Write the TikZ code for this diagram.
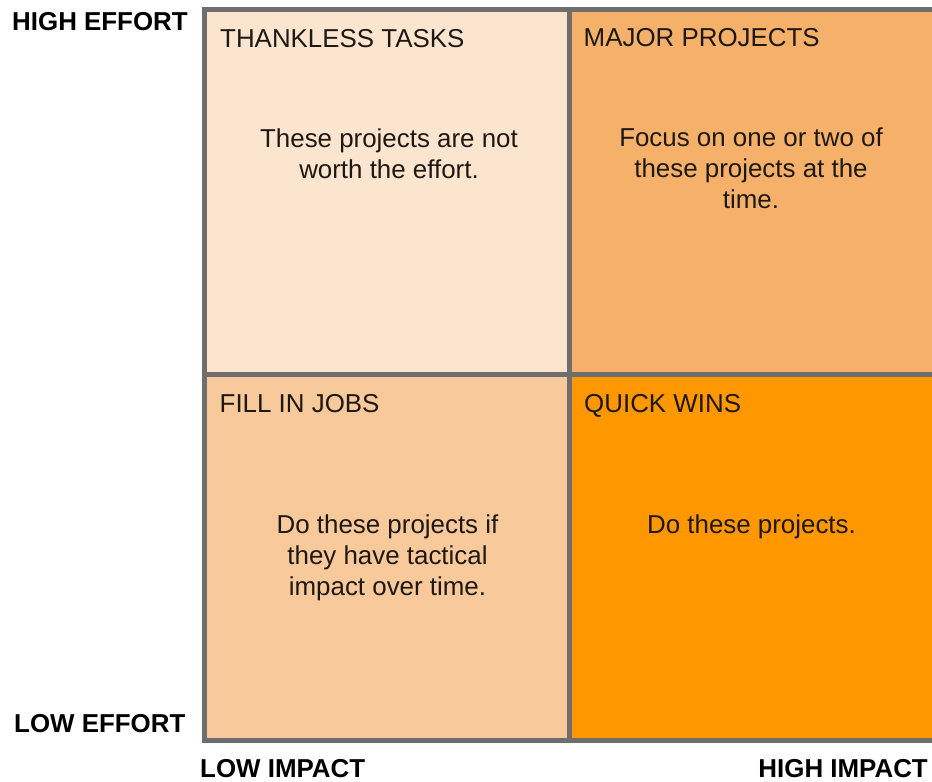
\documentclass[tikz,border=0pt]{standalone}
\usepackage{fontspec}
\setmainfont{Liberation Sans}
\definecolor{qtl}{RGB}{252,229,207}
\definecolor{qtr}{RGB}{245,176,106}
\definecolor{qbl}{RGB}{248,201,154}
\definecolor{qbr}{RGB}{255,152,0}
\definecolor{gridgray}{RGB}{110,110,110}
\definecolor{ink}{RGB}{30,24,20}
\begin{document}
\begin{tikzpicture}[x=1bp,y=-1bp,
  gridline/.style={draw=gridgray, line width=5bp},
  title/.style={anchor=base west, inner sep=0pt, text=ink, font=\fontsize{26}{31}\selectfont},
  body/.style={anchor=base, inner sep=0pt, text=ink, align=center, font=\fontsize{26}{31}\selectfont},
  axis/.style={inner sep=0pt, text=black, font=\bfseries\fontsize{26}{31}\selectfont}]
\useasboundingbox (0,0) rectangle (932,782);
% quadrants
\fill[qtl] (204,9.5) rectangle (569,374);
\fill[qtr] (569,9.5) rectangle (945,374);
\fill[qbl] (204,374) rectangle (569,740.5);
\fill[qbr] (569,374) rectangle (945,740.5);
% grid
\draw[gridline] (945,9.5) -- (204,9.5) -- (204,740.5) -- (945,740.5);
\draw[gridline] (569,9.5) -- (569,740.5);
\draw[gridline] (204,374) -- (945,374);
% titles
\node[title] (ttl) at (220,47.5) {THANKLESS TASKS};
\node[title] (ttr) at (583.5,47) {MAJOR PROJECTS};
\node[title] (tbl) at (219.5,412.3) {FILL IN JOBS};
\node[title] (tbr) at (584,412.3) {QUICK WINS};
% bodies (base = baseline of the last line)
\node[body] (btl) at (389,178.3) {These projects are not\\worth the effort.};
\node[body] (btr) at (751,208) {Focus on one or two of\\these projects at the\\time.};
\node[body] (bbl) at (387.5,595) {Do these projects if\\they have tactical\\impact over time.};
\node[body] (bbr) at (751.5,533.3) {Do these projects.};
% axis labels
\node[axis, anchor=base west] (he) at (12,30.5) {HIGH EFFORT};
\node[axis, anchor=base west] (le) at (14,732.5) {LOW EFFORT};
\node[axis, anchor=base west] (li) at (200,777.5) {LOW IMPACT};
\node[axis, anchor=base east] (hi) at (928,777.5) {HIGH IMPACT};
\end{tikzpicture}
\end{document}
